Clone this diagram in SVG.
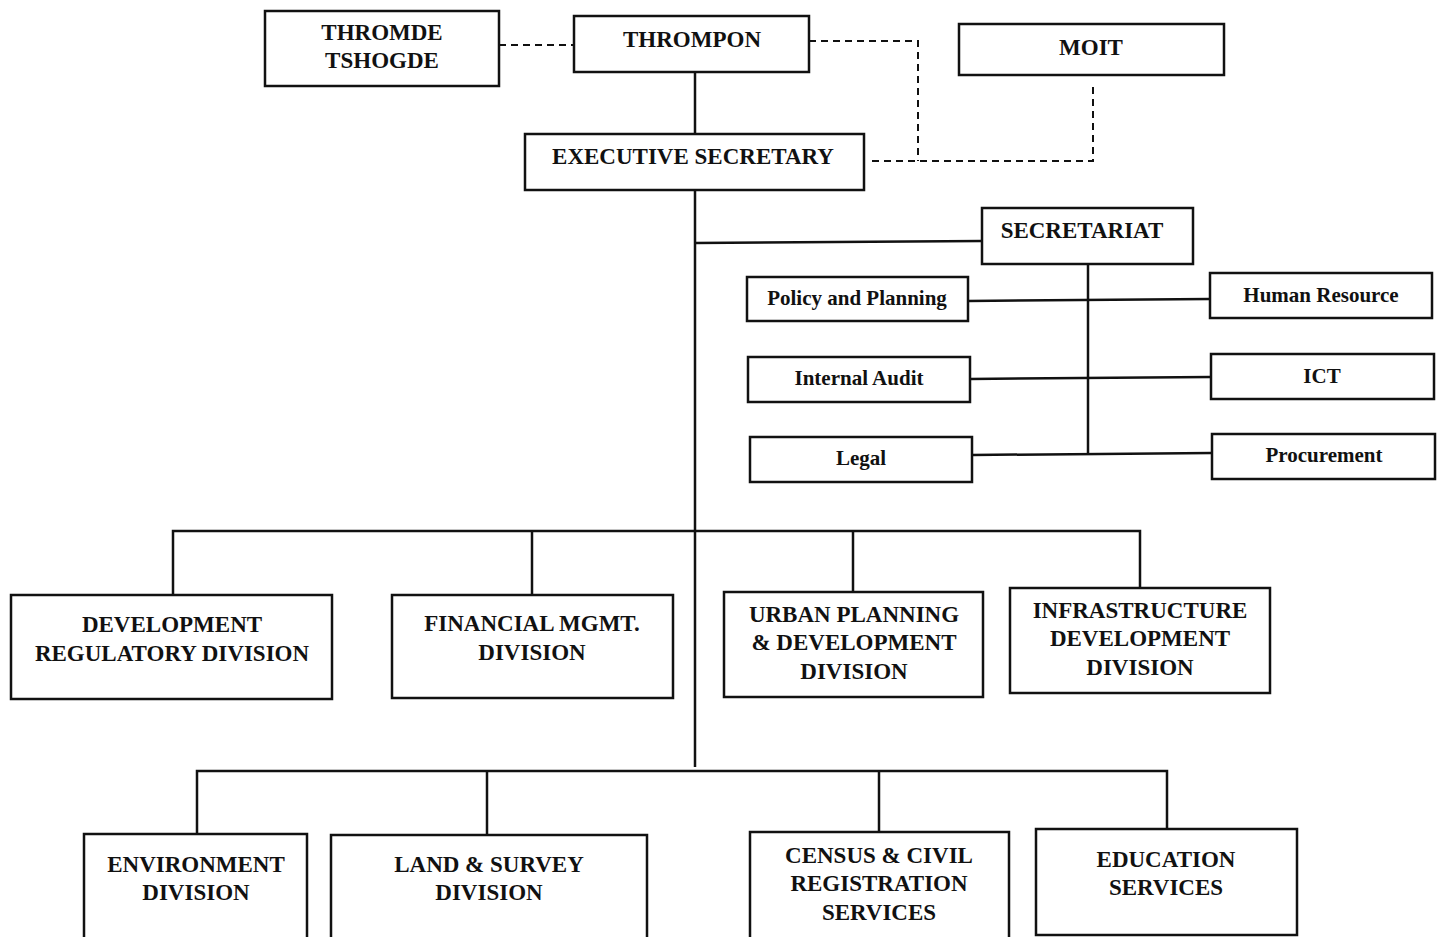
<svg xmlns="http://www.w3.org/2000/svg" width="1443" height="937" viewBox="0 0 1443 937">
<style>
.box{fill:#fff;stroke:#111;stroke-width:2.5}
.ln{fill:none;stroke:#111;stroke-width:2.5}
.dash{fill:none;stroke:#111;stroke-width:2;stroke-dasharray:7 5}
text{font-family:"Liberation Serif","Times New Roman",serif;font-weight:bold;fill:#111;text-anchor:middle}
.t{font-size:23px}
.s{font-size:21px}
</style>
<rect width="1443" height="937" fill="#fff"/>
<g id="connectors">
<path class="dash" d="M499 45 H574"/>
<path class="dash" d="M809 41 H918 V161"/>
<path class="dash" d="M872 161 H1093 V82"/>
<path class="ln" d="M695 72 V134"/>
<path class="ln" d="M695 190 V767"/>
<path class="ln" d="M695 243 L982 241"/>
<path class="ln" d="M1088 264 V454"/>
<path class="ln" d="M968 301 L1210 299"/>
<path class="ln" d="M970 379 L1211 377"/>
<path class="ln" d="M972 455 L1212 453"/>
<path class="ln" d="M173 595 V531 H1140 V588"/>
<path class="ln" d="M532 531 V595"/>
<path class="ln" d="M853 531 V592"/>
<path class="ln" d="M197 834 V771 H1167 V829"/>
<path class="ln" d="M487 771 V835"/>
<path class="ln" d="M879 771 V832"/>
</g>
<g id="thromde"><rect class="box" x="265" y="11" width="234" height="75"/><text class="t" x="382" y="40">THROMDE</text><text class="t" x="382" y="68">TSHOGDE</text></g>
<g id="thrompon"><rect class="box" x="574" y="16" width="235" height="56"/><text class="t" x="692" y="47">THROMPON</text></g>
<g id="moit"><rect class="box" x="959" y="24" width="265" height="51"/><text class="t" x="1091" y="55">MOIT</text></g>
<g id="exec"><rect class="box" x="525" y="134" width="339" height="56"/><text class="t" x="693" y="164">EXECUTIVE SECRETARY</text></g>
<g id="secretariat"><rect class="box" x="982" y="208" width="211" height="56"/><text class="t" x="1082" y="238">SECRETARIAT</text></g>
<g id="policy"><rect class="box" x="747" y="277" width="221" height="44"/><text class="s" x="857" y="305">Policy and Planning</text></g>
<g id="hr"><rect class="box" x="1210" y="273" width="222" height="45"/><text class="s" x="1321" y="302">Human Resource</text></g>
<g id="audit"><rect class="box" x="748" y="357" width="222" height="45"/><text class="s" x="859" y="385">Internal Audit</text></g>
<g id="ict"><rect class="box" x="1211" y="354" width="223" height="45"/><text class="s" x="1322" y="383">ICT</text></g>
<g id="legal"><rect class="box" x="750" y="437" width="222" height="45"/><text class="s" x="861" y="465">Legal</text></g>
<g id="procurement"><rect class="box" x="1212" y="434" width="223" height="45"/><text class="s" x="1324" y="462">Procurement</text></g>
<g id="devreg"><rect class="box" x="11" y="595" width="321" height="104"/><text class="t" x="172" y="632">DEVELOPMENT</text><text class="t" x="172" y="661">REGULATORY DIVISION</text></g>
<g id="finmgmt"><rect class="box" x="392" y="595" width="281" height="103"/><text class="t" x="532" y="631">FINANCIAL MGMT.</text><text class="t" x="532" y="660">DIVISION</text></g>
<g id="urban"><rect class="box" x="724" y="592" width="259" height="105"/><text class="t" x="854" y="622">URBAN PLANNING</text><text class="t" x="854" y="650">&amp; DEVELOPMENT</text><text class="t" x="854" y="679">DIVISION</text></g>
<g id="infra"><rect class="box" x="1010" y="588" width="260" height="105"/><text class="t" x="1140" y="618">INFRASTRUCTURE</text><text class="t" x="1140" y="646">DEVELOPMENT</text><text class="t" x="1140" y="675">DIVISION</text></g>
<g id="env"><rect class="box" x="84" y="834" width="223" height="110"/><text class="t" x="196" y="872">ENVIRONMENT</text><text class="t" x="196" y="900">DIVISION</text></g>
<g id="land"><rect class="box" x="331" y="835" width="316" height="110"/><text class="t" x="489" y="872">LAND &amp; SURVEY</text><text class="t" x="489" y="900">DIVISION</text></g>
<g id="census"><rect class="box" x="750" y="832" width="259" height="112"/><text class="t" x="879" y="863">CENSUS &amp; CIVIL</text><text class="t" x="879" y="891">REGISTRATION</text><text class="t" x="879" y="920">SERVICES</text></g>
<g id="education"><rect class="box" x="1036" y="829" width="261" height="106"/><text class="t" x="1166" y="867">EDUCATION</text><text class="t" x="1166" y="895">SERVICES</text></g>
</svg>
